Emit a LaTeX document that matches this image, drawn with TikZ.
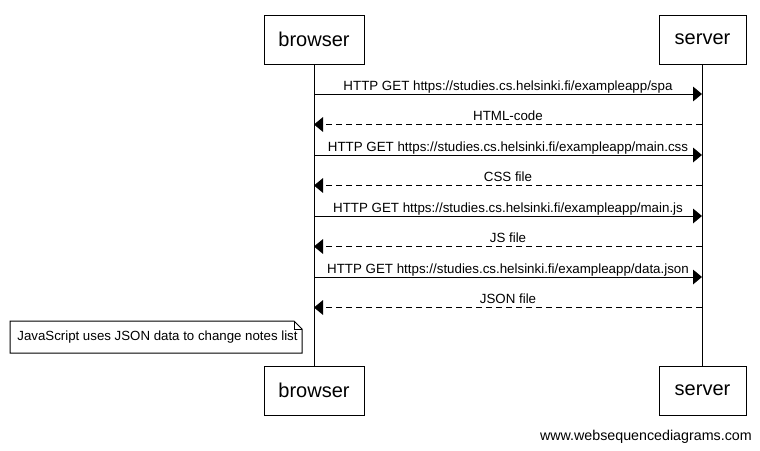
\documentclass[tikz,border=0pt]{standalone}
\usepackage{fontspec}
\setmainfont{Liberation Sans}
\usetikzlibrary{arrows.meta}
\begin{document}
\begin{tikzpicture}[x=0.75pt,y=-0.75pt,
  actor/.style={draw,line width=0.75pt,minimum width=75pt,minimum height=36.75pt,inner sep=0pt,font=\fontsize{15pt}{17pt}\selectfont},
  srvactor/.style={actor,minimum width=65.25pt},
  lifeline/.style={line width=0.75pt},
  req/.style={line width=0.75pt,-{Triangle[length=6.75pt,width=11pt]}},
  resp/.style={req,dash pattern=on 4.5pt off 3pt},
  msg/.style={anchor=base,inner sep=0pt,font=\fontsize{10pt}{12pt}\selectfont},
  notebox/.style={font=\fontsize{9.95pt}{12pt}\selectfont}]
\useasboundingbox (0,0) rectangle (760,450);
\fill[white] (0,0) rectangle (760,450);

% participants, top and bottom
\node[actor] (bt) at (314,39.5) {browser};
\node[srvactor] (st) at (702.5,39.5) {server};
\node[actor] (bb) at (314,390.5) {browser};
\node[srvactor] (sb) at (702.5,390.5) {server};

% lifelines
\draw[lifeline] (bt.south) -- (bb.north);
\draw[lifeline] (st.south) -- (sb.north);

% message anchor points on the lifelines
\foreach \i/\y in {1/94,2/124.5,3/155,4/185.5,5/216,6/246.5,7/277,8/307.5}{
  \coordinate (b\i) at (314,\y);
  \coordinate (s\i) at (702,\y);
}

\draw[req] (b1) -- (s1) node[msg,midway,yshift=3pt] {HTTP GET https://studies.cs.helsinki.fi/exampleapp/spa};
\draw[resp] (s2) -- (b2) node[msg,midway,yshift=3pt] {HTML-code};
\draw[req] (b3) -- (s3) node[msg,midway,yshift=3pt] {HTTP GET https://studies.cs.helsinki.fi/exampleapp/main.css};
\draw[resp] (s4) -- (b4) node[msg,midway,yshift=3pt] {CSS file};
\draw[req] (b5) -- (s5) node[msg,midway,yshift=3pt] {HTTP GET https://studies.cs.helsinki.fi/exampleapp/main.js};
\draw[resp] (s6) -- (b6) node[msg,midway,yshift=3pt] {JS file};
\draw[req] (b7) -- (s7) node[msg,midway,yshift=3pt] {HTTP GET https://studies.cs.helsinki.fi/exampleapp/data.json};
\draw[resp] (s8) -- (b8) node[msg,midway,yshift=3pt] {JSON file};

% note with folded corner
\draw[line width=0.75pt,fill=white] (10,321) -- (294,321) -- (302,329) -- (302,353) -- (10,353) -- cycle;
\draw[line width=0.75pt] (294,321) -- (294,329) -- (302,329);
\node[notebox,inner sep=0pt] (note) at (157.5,337) {JavaScript uses JSON data to change notes list};

% footer
\node[anchor=base east,inner sep=0pt,font=\fontsize{10.7pt}{12pt}\selectfont] (footer) at (752,440) {www.websequencediagrams.com};
\end{tikzpicture}
\end{document}
